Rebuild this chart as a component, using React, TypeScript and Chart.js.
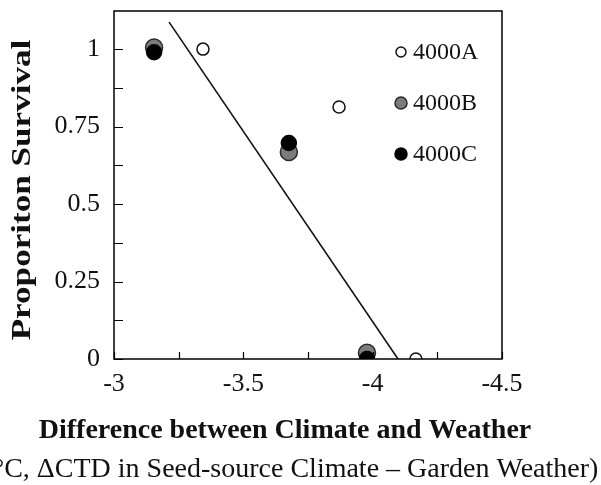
import React, { useEffect, useRef } from "react";
import { Chart, registerables } from "chart.js";

Chart.register(...registerables);

const FONT = '"Liberation Serif", "Times New Roman", serif';

// Data (x = ΔCTD, y = proportion survival)
const seriesNames = ["4000A", "4000B", "4000C"];
const seriesAX = [-3.344, -3.87, -4.167];
const seriesAY = [1.0, 0.813, 0.0];
const seriesBX = [-3.155, -3.676, -3.978];
const seriesBY = [1.005, 0.668, 0.02];
const seriesCX = [-3.155, -3.676, -3.978];
const seriesCY = [0.99, 0.697, 0.0];
const fitLineX = [-3.213, -4.098];
const fitLineY = [1.087, 0.0];

const xTickValues = [-3, -3.25, -3.5, -3.75, -4, -4.25, -4.5];
const xLabeledTicks = [-3, -3.5, -4, -4.5];
const yTickValues = [0, 0.125, 0.25, 0.375, 0.5, 0.625, 0.75, 0.875, 1];
const yLabeledTicks = [0, 0.25, 0.5, 0.75, 1];

const yTitle = "Proporiton Survival";
const xTitle1 = "Difference between Climate and Weather";
const xTitle2 = "(°C, ΔCTD in Seed-source Climate – Garden Weather)";

const toPts = (xs: number[], ys: number[]) => xs.map((x, i) => ({ x, y: ys[i] }));

const styleA = { fill: "#ffffff", stroke: "#111111", r: 6, legendR: 5 };
const styleB = { fill: "#7c7c7c", stroke: "#2a2a2a", r: 8.5, legendR: 6 };
const styleC = { fill: "#000000", stroke: "#000000", r: 7.5, legendR: 6 };

const decorPlugin = {
  id: "decor",
  afterDraw(chart: any) {
    const { ctx, chartArea, scales } = chart;
    const xs = scales.x;
    const ys = scales.y;
    ctx.save();
    // frame
    ctx.strokeStyle = "#000";
    ctx.lineWidth = 1.5;
    ctx.strokeRect(chartArea.left, chartArea.top, chartArea.right - chartArea.left, chartArea.bottom - chartArea.top);
    // inward ticks
    ctx.beginPath();
    yTickValues.forEach((v) => {
      const py = Math.round(ys.getPixelForValue(v)) + 0.5;
      ctx.moveTo(chartArea.left, py);
      ctx.lineTo(chartArea.left + 9, py);
    });
    xTickValues.forEach((v) => {
      const px = Math.round(xs.getPixelForValue(v)) + 0.5;
      ctx.moveTo(px, chartArea.bottom);
      ctx.lineTo(px, chartArea.bottom - 7);
    });
    ctx.lineWidth = 1.2;
    ctx.stroke();

    // legend
    const styles = [styleA, styleB, styleC];
    const lx = chartArea.right - 101;
    const ly0 = chartArea.top + 41;
    const gap = 51;
    ctx.font = `24px ${FONT}`;
    ctx.textBaseline = "middle";
    ctx.textAlign = "left";
    styles.forEach((s, i) => {
      const y = ly0 + i * gap;
      ctx.beginPath();
      ctx.arc(lx, y, s.legendR, 0, Math.PI * 2);
      ctx.fillStyle = s.fill;
      ctx.fill();
      ctx.lineWidth = 1.5;
      ctx.strokeStyle = s.stroke;
      ctx.stroke();
      ctx.fillStyle = "#111";
      ctx.fillText(seriesNames[i], lx + 12, y + 1);
    });

    // titles
    ctx.fillStyle = "#111";
    ctx.textAlign = "center";
    ctx.textBaseline = "middle";
    ctx.font = `bold 28px ${FONT}`;
    ctx.fillText(xTitle1, 285, 431);
    ctx.font = `28px ${FONT}`;
    ctx.fillText(xTitle2, 291, 470);
    ctx.save();
    ctx.translate(23, 190);
    ctx.rotate(-Math.PI / 2);
    ctx.scale(1.3, 1);
    ctx.font = `bold 27px ${FONT}`;
    ctx.fillText(yTitle, 0, 0);
    ctx.restore();
    ctx.restore();
  },
};

export default function App() {
  const ref = useRef<HTMLCanvasElement>(null);
  useEffect(() => {
    if (!ref.current) return;
    const chart = new Chart(ref.current, {
      type: "scatter",
      data: {
        datasets: [
          {
            type: "line",
            label: "fit",
            data: toPts(fitLineX, fitLineY),
            borderColor: "#111",
            borderWidth: 1.6,
            pointRadius: 0,
            fill: false,
            order: 3,
          } as any,
          {
            label: seriesNames[0],
            data: toPts(seriesAX, seriesAY),
            backgroundColor: styleA.fill,
            borderColor: styleA.stroke,
            borderWidth: 1.5,
            pointRadius: styleA.r,
            order: 2,
          },
          {
            label: seriesNames[1],
            data: toPts(seriesBX, seriesBY),
            backgroundColor: styleB.fill,
            borderColor: styleB.stroke,
            borderWidth: 1.5,
            pointRadius: styleB.r,
            order: 1,
          },
          {
            label: seriesNames[2],
            data: toPts(seriesCX, seriesCY),
            backgroundColor: styleC.fill,
            borderColor: styleC.stroke,
            borderWidth: 1.5,
            pointRadius: styleC.r,
            order: 0,
          },
        ],
      },
      options: {
        responsive: false,
        animation: false,
        devicePixelRatio: 1,
        layout: { padding: { left: 0, right: 99, top: 11, bottom: 0 } },
        plugins: { legend: { display: false }, tooltip: { enabled: false } },
        scales: {
          x: {
            type: "linear",
            min: -4.5,
            max: -3,
            reverse: true,
            afterBuildTicks: (s: any) => {
              s.ticks = xTickValues.map((v) => ({ value: v }));
            },
            afterFit: (s: any) => {
              s.height = 126;
              s.paddingLeft = 0;
              s.paddingRight = 0;
            },
            grid: { display: false, drawTicks: false },
            border: { display: false },
            ticks: {
              autoSkip: false,
              maxRotation: 0,
              padding: 10,
              color: "#111",
              font: { family: FONT, size: 26 },
              callback: (v: any) => (xLabeledTicks.includes(Number(v)) ? String(v) : ""),
            },
          },
          y: {
            type: "linear",
            min: 0,
            max: 1.123,
            afterBuildTicks: (s: any) => {
              s.ticks = yTickValues.map((v) => ({ value: v }));
            },
            afterFit: (s: any) => {
              s.width = 114;
              s.paddingTop = 0;
              s.paddingBottom = 0;
            },
            grid: { display: false, drawTicks: false },
            border: { display: false },
            ticks: {
              autoSkip: false,
              padding: 14,
              color: "#111",
              font: { family: FONT, size: 26 },
              callback: (v: any) => (yLabeledTicks.includes(Number(v)) ? String(v) : ""),
            },
          },
        },
      },
      plugins: [decorPlugin],
    });
    return () => chart.destroy();
  }, []);
  return (
    <div style={{ position: "fixed", left: 0, top: 0, width: 601, height: 485, background: "#fff" }}>
      <canvas ref={ref} width={601} height={485} />
    </div>
  );
}
